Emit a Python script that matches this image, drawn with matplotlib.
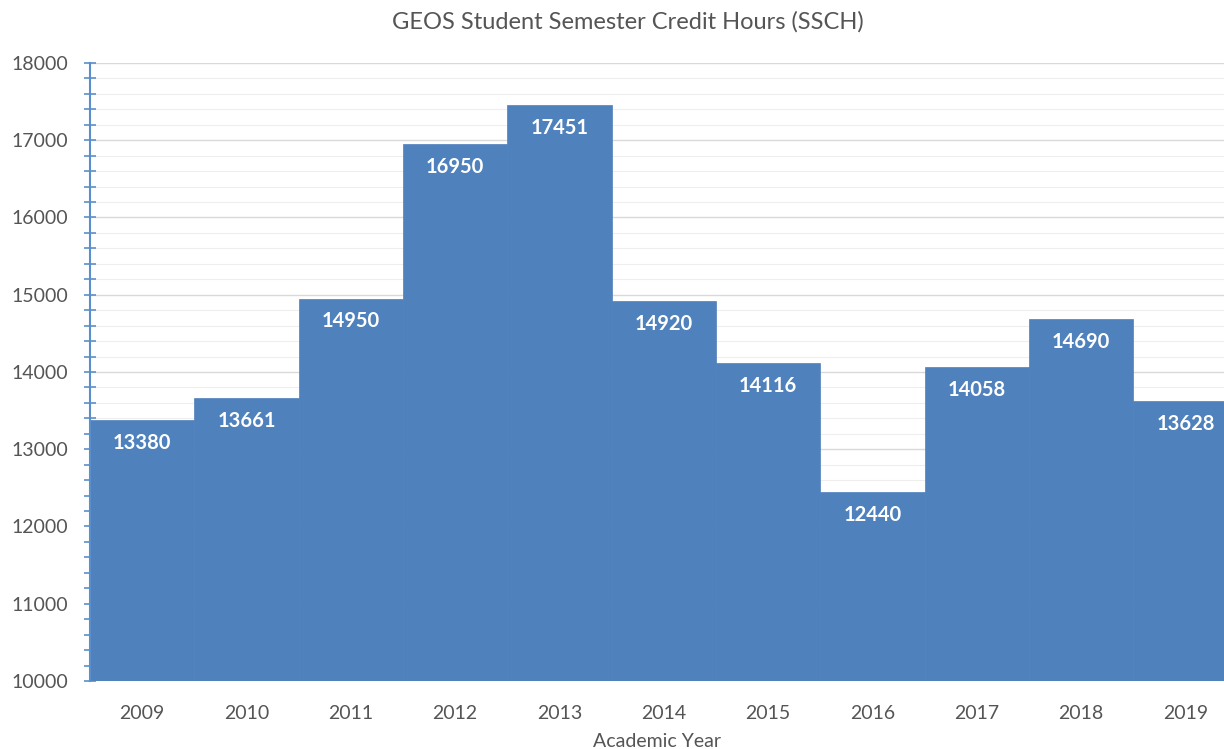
import matplotlib.pyplot as plt
from matplotlib.ticker import MultipleLocator

# Data
years = [2009, 2010, 2011, 2012, 2013, 2014, 2015, 2016, 2017, 2018, 2019]
ssch = [13380, 13661, 14950, 16950, 17451, 14920, 14116, 12440, 14058, 14690, 13628]

plt.rcParams['font.family'] = ['Lato', 'DejaVu Sans']

fig = plt.figure(figsize=(12.24, 7.49), dpi=100)
ax = fig.add_axes([0.0735, 0.0908, 0.9265, 0.8252])

bar_color = '#4F81BD'
ax.bar(years, [v - 10000 for v in ssch], bottom=10000, width=1.0,
       color=bar_color, edgecolor=bar_color, linewidth=0.5, zorder=3)

for x, v in zip(years, ssch):
    ax.annotate(str(v), (x, v), xytext=(0, -16.5), textcoords='offset points',
                ha='center', va='center', color='white', fontsize=14.5,
                fontweight='bold', zorder=4)

ax.set_ylim(10000, 18000)
ax.set_xlim(2008.5, 2019.37)
ax.yaxis.set_major_locator(MultipleLocator(1000))
ax.yaxis.set_minor_locator(MultipleLocator(200))
ax.set_xticks(years)
ax.set_xticklabels([str(y) for y in years])

ax.grid(which='major', axis='y', color='#d9d9d9', linewidth=1.0, zorder=0)
ax.grid(which='minor', axis='y', color='#eeeeee', linewidth=0.8, zorder=0)

for s in ['top', 'right', 'bottom']:
    ax.spines[s].set_visible(False)
ax.spines['left'].set_color('#5b8fc9')
ax.spines['left'].set_linewidth(1.5)
ax.spines['left'].set_zorder(5)

ax.tick_params(axis='y', which='both', direction='inout', color='#5b8fc9',
               length=8, width=1.2, labelsize=14, labelcolor='#555555', pad=12)
ax.tick_params(axis='x', length=0, labelsize=14, labelcolor='#555555', pad=17)

ax.set_xlabel('Academic Year', fontsize=14, color='#555555', labelpad=8)
fig.suptitle('GEOS Student Semester Credit Hours (SSCH)', fontsize=17,
             color='#555555', y=0.985, x=0.513)

fig.savefig('out.png', dpi=100)
